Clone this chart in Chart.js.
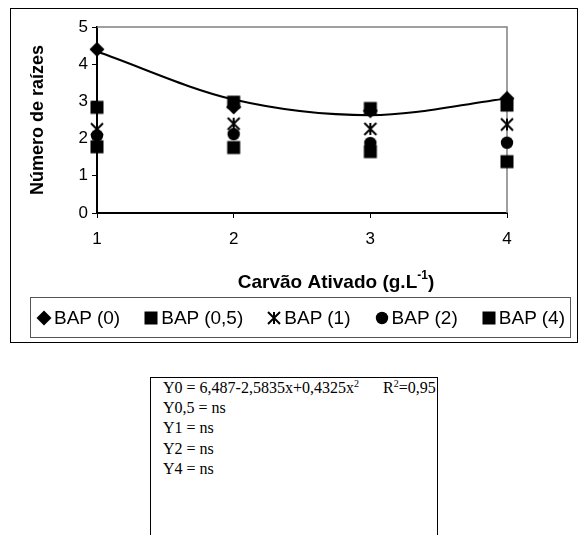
<!DOCTYPE html>
<html>
<head>
<meta charset="utf-8">
<script src="https://cdn.jsdelivr.net/npm/chart.js@4.4.1/dist/chart.umd.min.js"></script>
<style>
  body { margin: 0; background: #fff; width: 587px; height: 535px; overflow: hidden; position: relative; font-family: Arial, "Liberation Sans", sans-serif; }
  #marco { position: absolute; left: 10px; top: 8px; width: 566px; height: 333px; border: 1px solid #000; }
  #grafica { position: absolute; left: 0; top: 0; }
  #leyenda { position: absolute; left: 30px; top: 297px; width: 529px; height: 39px; border: 1px solid #555; display: flex; align-items: center; justify-content: space-between; padding: 0 5px 0 5px; }
  .item { display: flex; align-items: center; font-size: 19px; color: #000; }
  .item canvas { margin-right: 2px; }
  #ecuaciones { position: absolute; left: 150px; top: 377px; width: 286px; height: 200px; border: 1.5px solid #000; font-family: "Times New Roman", "Liberation Serif", serif; font-size: 16px; color: #000; }
  .fila { position: absolute; left: 12px; height: 20px; line-height: 20px; white-space: nowrap; }
  sup { font-size: 10px; line-height: 0; vertical-align: 6px; }
</style>
</head>
<body>
<div id="marco"></div>
<canvas id="grafica" width="587" height="300"></canvas>
<div id="leyenda"></div>
<div id="ecuaciones">
  <div class="fila" style="top:0px">Y0 = 6,487-2,5835x+0,4325x<sup>2</sup></div>
  <div class="fila" style="top:0px; left:232px">R<sup>2</sup>=0,95</div>
  <div class="fila" style="top:20px">Y0,5 = ns</div>
  <div class="fila" style="top:40px">Y1 = ns</div>
  <div class="fila" style="top:61px">Y2 = ns</div>
  <div class="fila" style="top:81px">Y4 = ns</div>
</div>
<script>
const carvao = [1, 2, 3, 4];
const bap0 = [4.4, 2.85, 2.75, 3.08];
const bap05 = [2.84, 2.98, 2.81, 2.9];
const bap1 = [2.25, 2.4, 2.26, 2.38];
const bap2 = [2.08, 2.12, 1.88, 1.89];
const bap4 = [1.78, 1.76, 1.65, 1.38];
const tendencia0 = [4.34, 3.05, 2.63, 3.08];
const nomes = ['BAP (0)', 'BAP (0,5)', 'BAP (1)', 'BAP (2)', 'BAP (4)'];
const marcadores = ['diamante', 'cuadrado', 'estrella', 'circulo', 'cuadrado'];
const yTicks = [0, 1, 2, 3, 4, 5];

function crearMarcador(tipo) {
  const c = document.createElement('canvas');
  c.width = 16; c.height = 16;
  const g = c.getContext('2d');
  const m = 8;
  g.fillStyle = '#000';
  g.strokeStyle = '#000';
  if (tipo === 'diamante') {
    g.beginPath();
    g.moveTo(m, m - 7.5); g.lineTo(m + 7.5, m); g.lineTo(m, m + 7.5); g.lineTo(m - 7.5, m);
    g.closePath(); g.fill();
  } else if (tipo === 'cuadrado') {
    g.fillRect(m - 6.5, m - 6.5, 13, 13);
  } else if (tipo === 'circulo') {
    g.beginPath(); g.arc(m, m, 6.2, 0, Math.PI * 2); g.fill();
  } else {
    g.lineWidth = 2;
    g.beginPath();
    g.moveTo(m - 6, m - 6); g.lineTo(m + 6, m + 6);
    g.moveTo(m + 6, m - 6); g.lineTo(m - 6, m + 6);
    g.moveTo(m, m - 6); g.lineTo(m, m + 6);
    g.stroke();
  }
  return c;
}

const puntos = serie => carvao.map((x, i) => ({ x: x, y: serie[i] }));
const series = [bap0, bap05, bap1, bap2, bap4];

const datasets = series.map((serie, i) => ({
  label: nomes[i],
  data: puntos(serie),
  showLine: false,
  pointStyle: crearMarcador(marcadores[i]),
  pointRadius: 7,
  clip: false,
  order: series.length - i
}));

datasets.push({
  label: 'Tendência BAP (0)',
  data: puntos(tendencia0),
  borderColor: '#000',
  borderWidth: 2,
  pointRadius: 0,
  cubicInterpolationMode: 'monotone',
  clip: false,
  order: 0
});

// borde gris del área de trazado (arriba y derecha)
const bordeArea = {
  id: 'bordeArea',
  beforeDatasetsDraw(chart) {
    const { ctx, chartArea } = chart;
    ctx.save();
    ctx.strokeStyle = '#808080';
    ctx.lineWidth = 1.5;
    ctx.beginPath();
    ctx.moveTo(chartArea.left, chartArea.top);
    ctx.lineTo(chartArea.right, chartArea.top);
    ctx.lineTo(chartArea.right, chartArea.bottom);
    ctx.stroke();
    ctx.restore();
  }
};

// título del eje X con superíndice
const tituloX = {
  id: 'tituloX',
  afterDraw(chart) {
    const { ctx, chartArea } = chart;
    const base = 'Carvão Ativado (g.L';
    const sup = '-1';
    const fin = ')';
    ctx.save();
    ctx.fillStyle = '#000';
    ctx.textBaseline = 'middle';
    ctx.font = 'bold 19px Arial';
    const w1 = ctx.measureText(base).width;
    const w3 = ctx.measureText(fin).width;
    ctx.font = 'bold 12px Arial';
    const w2 = ctx.measureText(sup).width;
    const total = w1 + w2 + w3;
    let x = (chartArea.left + chartArea.right) / 2 + 34 - total / 2;
    const y = chartArea.bottom + 70;
    ctx.font = 'bold 19px Arial';
    ctx.fillText(base, x, y);
    x += w1;
    ctx.font = 'bold 12px Arial';
    ctx.fillText(sup, x, y - 7);
    x += w2;
    ctx.font = 'bold 19px Arial';
    ctx.fillText(fin, x, y);
    ctx.restore();
  }
};

const ctx = document.getElementById('grafica').getContext('2d');
const chart = new Chart(ctx, {
  type: 'line',
  data: { datasets: datasets },
  plugins: [bordeArea, tituloX],
  options: {
    responsive: false,
    animation: false,
    layout: { padding: { left: 27, right: 80, top: 27, bottom: 5 } },
    plugins: { legend: { display: false }, tooltip: { enabled: false } },
    scales: {
      x: {
        type: 'linear',
        min: carvao[0],
        max: carvao[carvao.length - 1],
        afterFit: s => { s.height = 82; },
        afterBuildTicks: s => { s.ticks = carvao.map(v => ({ value: v })); },
        ticks: { color: '#000', font: { family: 'Arial', size: 17 }, padding: 11 },
        grid: { drawOnChartArea: false, tickLength: 5, color: '#000', lineWidth: 1 },
        border: { color: '#000', width: 2 }
      },
      y: {
        min: yTicks[0],
        max: yTicks[yTicks.length - 1],
        afterFit: s => { s.width = 70; },
        afterBuildTicks: s => { s.ticks = yTicks.map(v => ({ value: v })); },
        ticks: { color: '#000', font: { family: 'Arial', size: 17 }, padding: 4 },
        grid: { drawOnChartArea: false, tickLength: 5, color: '#000', lineWidth: 1 },
        border: { color: '#000', width: 2 },
        title: {
          display: true,
          text: 'Número de raízes',
          color: '#000',
          font: { family: 'Arial', size: 18, weight: 'bold' },
          padding: 0
        }
      }
    }
  }
});

// leyenda en HTML con los mismos marcadores
const leyenda = document.getElementById('leyenda');
nomes.forEach((nome, i) => {
  const item = document.createElement('div');
  item.className = 'item';
  item.appendChild(crearMarcador(marcadores[i]));
  const txt = document.createElement('span');
  txt.textContent = nome;
  item.appendChild(txt);
  leyenda.appendChild(item);
});
</script>
</body>
</html>
